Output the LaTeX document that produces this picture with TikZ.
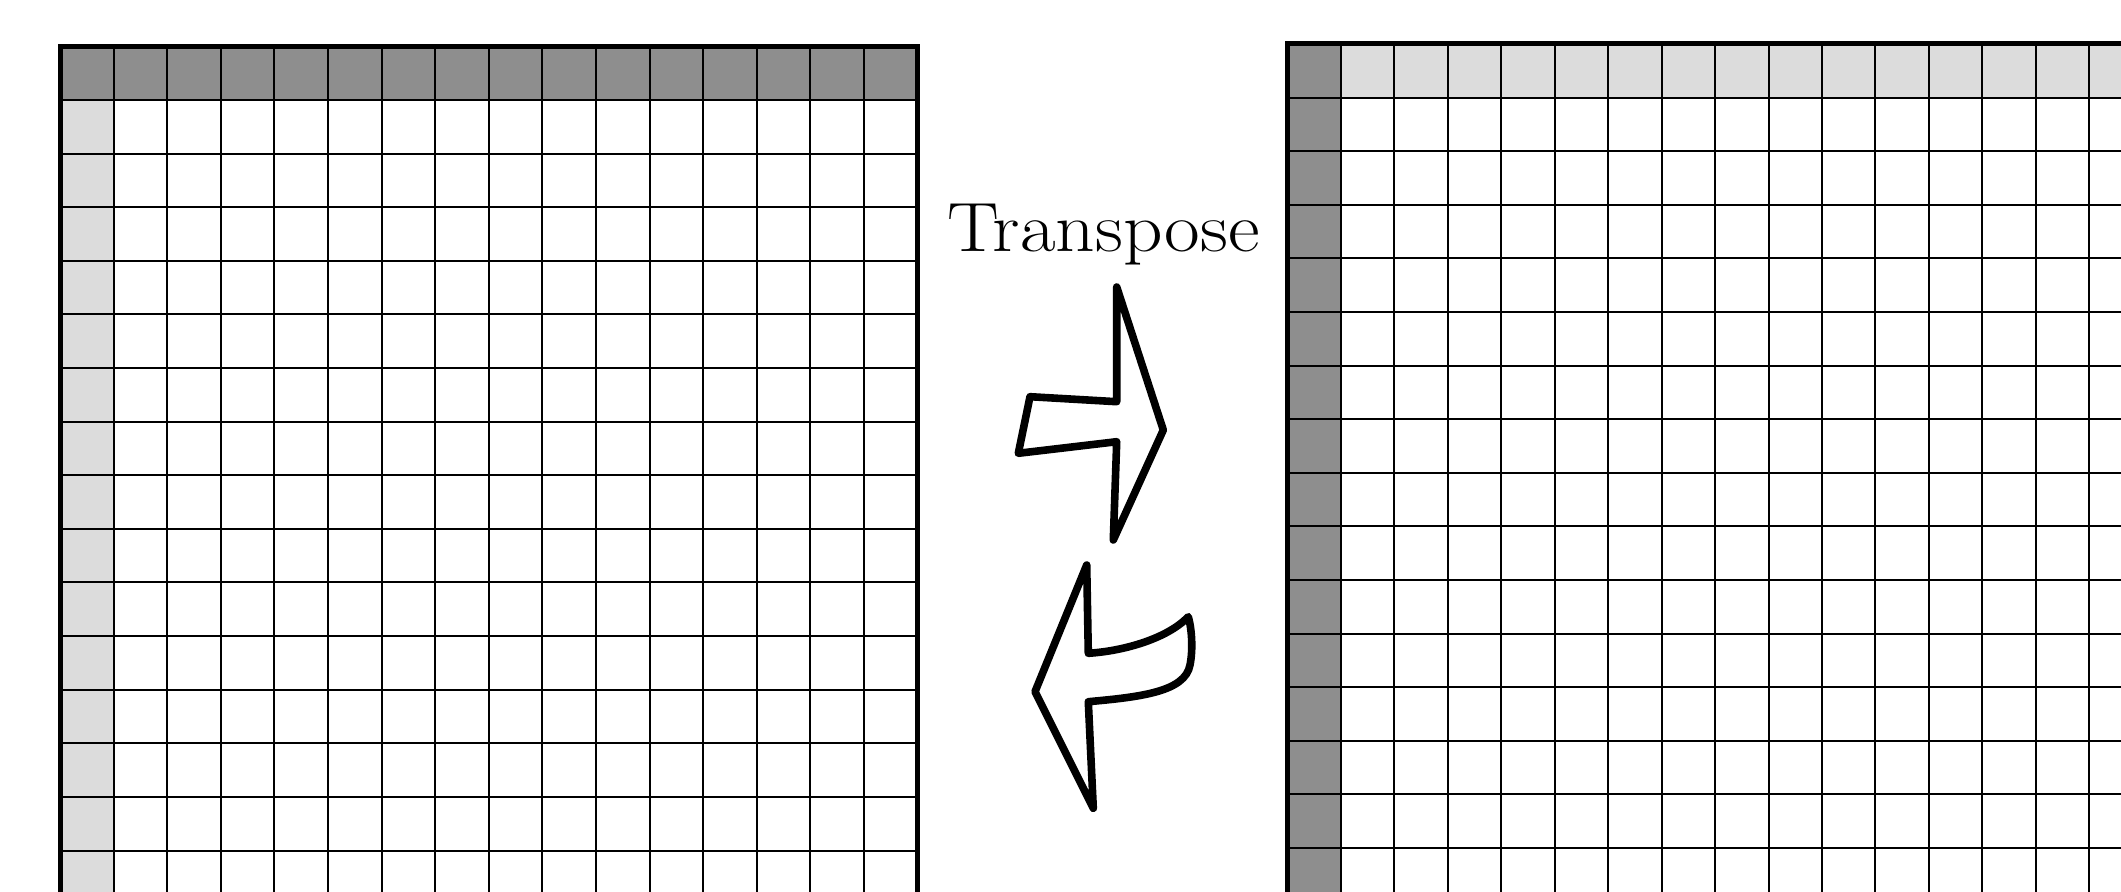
\documentclass[tikz,border=0pt]{standalone}
\definecolor{darkcell}{HTML}{8E8E8E}
\definecolor{lightcell}{HTML}{DCDCDC}
\tikzset{
  innerline/.style={draw=black,line width=1pt},
  outerline/.style={draw=black,line width=2.5pt,line join=miter},
  bigarrow/.style={draw=black,line width=3.8pt,line join=round,fill=white},
}
\begin{document}
\begin{tikzpicture}[x=0.5pt,y=-0.5pt]
\useasboundingbox (0,0) rectangle (2121,892);
\clip (0,0) rectangle (2121,892);
% ---------- left grid ----------
\def\lx{60}\def\ly{46.5}\def\cw{53.6}
\fill[darkcell] (\lx,\ly) rectangle (\lx+16*\cw,\ly+\cw);
\fill[lightcell] (\lx,\ly+\cw) rectangle (\lx+\cw,\ly+16*\cw);
\foreach \i in {1,...,15}{
  \draw[innerline] (\lx+\i*\cw,\ly) -- (\lx+\i*\cw,\ly+16*\cw);
  \draw[innerline] (\lx,\ly+\i*\cw) -- (\lx+16*\cw,\ly+\i*\cw);
}
\draw[outerline] (\lx,\ly) rectangle (\lx+16*\cw,\ly+16*\cw);
% ---------- right grid ----------
\def\rx{1287.5}\def\ry{44}\def\rw{53.45}\def\rh{53.6}
\fill[darkcell] (\rx,\ry) rectangle (\rx+\rw,\ry+16*\rh);
\fill[lightcell] (\rx+\rw,\ry) rectangle (\rx+16*\rw,\ry+\rh);
\foreach \i in {1,...,15}{
  \draw[innerline] (\rx+\i*\rw,\ry) -- (\rx+\i*\rw,\ry+16*\rh);
  \draw[innerline] (\rx,\ry+\i*\rh) -- (\rx+16*\rw,\ry+\i*\rh);
}
\draw[outerline] (\rx,\ry) rectangle (\rx+16*\rw,\ry+16*\rh);
% ---------- label ----------
\node[font=\fontsize{34.9}{40}\selectfont,anchor=base,inner sep=0pt] (lbl) at (1103.3,251.7) {\scalebox{1.11}[1]{Transpose}};
% ---------- upper arrow (to the right) ----------
\draw[bigarrow] (1116.7,287) -- (1163.3,430) -- (1113.3,540) -- (1116.7,441.7)
  -- (1018.3,453.3) -- (1030,396.7) -- (1116.7,401.7) -- cycle;
% ---------- lower arrow (to the left) ----------
\draw[bigarrow] (1086.7,565) -- (1035,691.7) -- (1093.3,808.3) -- (1088.3,701.7)
  .. controls (1140,697) and (1185,692) .. (1190,665)
  .. controls (1193,650) and (1192,630) .. (1188.3,616.7)
  .. controls (1168,638) and (1125,651) .. (1088.3,653.3)
  -- cycle;
\end{tikzpicture}
\end{document}
